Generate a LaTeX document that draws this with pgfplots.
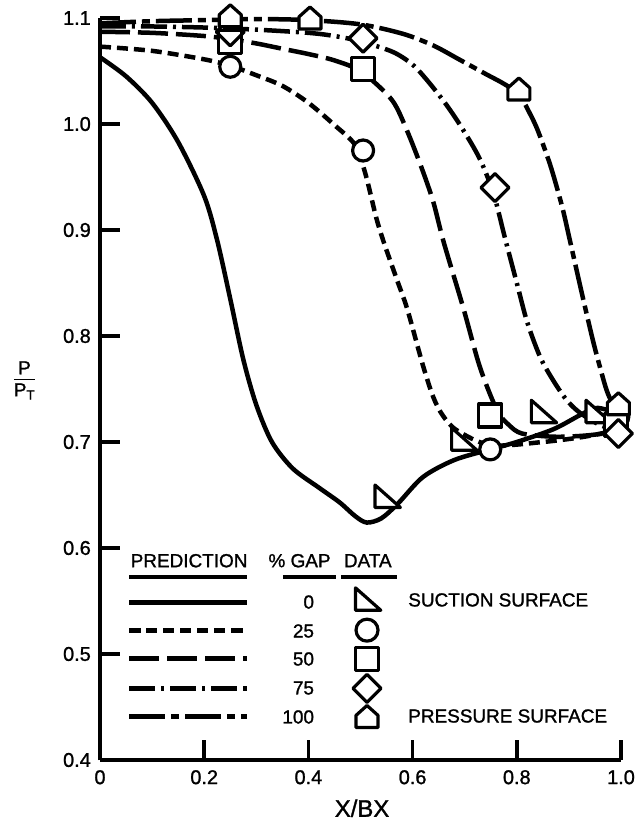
\documentclass[border=0pt]{standalone}
\usepackage{pgfplots}
\pgfplotsset{compat=1.18}
\usepackage{fontspec}
\setmainfont{Liberation Sans}[FakeBold=1.2]

\pgfdeclareplotmark{rtri}{%
  \pgfpathmoveto{\pgfpoint{-\pgfplotmarksize}{1.05\pgfplotmarksize}}%
  \pgfpathlineto{\pgfpoint{-\pgfplotmarksize}{-0.9\pgfplotmarksize}}%
  \pgfpathlineto{\pgfpoint{1.2\pgfplotmarksize}{-0.9\pgfplotmarksize}}%
  \pgfpathclose
  \pgfusepathqfillstroke}
\pgfdeclareplotmark{house}{%
  \pgfpathmoveto{\pgfpoint{0pt}{1.1\pgfplotmarksize}}%
  \pgfpathlineto{\pgfpoint{-\pgfplotmarksize}{0.2\pgfplotmarksize}}%
  \pgfpathlineto{\pgfpoint{-\pgfplotmarksize}{-0.9\pgfplotmarksize}}%
  \pgfpathlineto{\pgfpoint{\pgfplotmarksize}{-0.9\pgfplotmarksize}}%
  \pgfpathlineto{\pgfpoint{\pgfplotmarksize}{0.2\pgfplotmarksize}}%
  \pgfpathclose
  \pgfusepathqfillstroke}
\pgfdeclareplotmark{dmd}{%
  \pgfpathmoveto{\pgfpoint{0pt}{\pgfplotmarksize}}%
  \pgfpathlineto{\pgfpoint{-\pgfplotmarksize}{0pt}}%
  \pgfpathlineto{\pgfpoint{0pt}{-\pgfplotmarksize}}%
  \pgfpathlineto{\pgfpoint{\pgfplotmarksize}{0pt}}%
  \pgfpathclose
  \pgfusepathqfillstroke}
\pgfdeclareplotmark{dmdo}{%
  \pgfpathmoveto{\pgfpoint{0pt}{\pgfplotmarksize}}%
  \pgfpathlineto{\pgfpoint{-\pgfplotmarksize}{0pt}}%
  \pgfpathlineto{\pgfpoint{0pt}{-\pgfplotmarksize}}%
  \pgfpathlineto{\pgfpoint{\pgfplotmarksize}{0pt}}%
  \pgfpathclose
  \pgfusepathqstroke}

\tikzset{
  c0/.style={line width=4.5bp, solid, smooth, tension=0.5},
  c25/.style={line width=4.5bp, dash pattern=on 11bp off 6bp, smooth, tension=0.5},
  c50/.style={line width=4.5bp, dash pattern=on 30bp off 8bp, smooth, tension=0.5},
  c75/.style={line width=4.5bp, dash pattern=on 26bp off 6bp on 3bp off 6bp, smooth, tension=0.5},
  c100/.style={line width=4.5bp, dash pattern=on 36bp off 6bp on 8bp off 6bp, smooth, tension=0.5},
  mk/.style={only marks, mark options={solid, line width=3.2bp, draw=black, fill=white, line join=round}},
}
\newcommand{\lf}{\fontsize{19}{19}\selectfont}

\begin{document}
\begin{tikzpicture}
\path[use as bounding box] (-100bp,-62bp) rectangle (535bp,760bp);
\begin{axis}[
  at={(0,0)}, anchor=south west,
  scale only axis, width=521bp, height=742bp,
  xmin=0, xmax=1, ymin=0.4, ymax=1.1,
  axis x line*=bottom, axis y line*=left,
  axis line style={line width=4.5bp, black},
  tick style={line width=3.5bp, black},
  tick align=inside, major tick length=20bp,
  xtick={0,0.2,0.4,0.6,0.8,1.0},
  xticklabels={0,0.2,0.4,0.6,0.8,1.0},
  ytick={0.4,0.5,0.6,0.7,0.8,0.9,1.0,1.1},
  yticklabels={0.4,0.5,0.6,0.7,0.8,0.9,1.0,1.1},
  xticklabel style={font=\fontsize{20}{20}\selectfont, anchor=north, inner sep=0pt, yshift=-10bp},
  yticklabel style={font=\fontsize{20}{20}\selectfont, anchor=east, inner sep=0pt, xshift=-9bp},
  xlabel={X/BX},
  xlabel style={font=\fontsize{24}{24}\selectfont, at={(axis description cs:0.503,-0.065)}, anchor=center},
  ylabel={\begin{tabular}{@{}c@{}}P\\[-1pt]\hline\rule{0pt}{17pt}P\textsubscript{T}\end{tabular}},
  ylabel style={font=\fontsize{19}{19}\selectfont, rotate=-90, at={(axis description cs:-0.145,0.51)}, anchor=center},
  clip=false,
]
% 0 % gap (solid)
\addplot[c0] coordinates {(0,1.063)(0.05,1.045)(0.1,1.02)(0.15,0.983)(0.2,0.932)(0.225,0.89)(0.25,0.835)(0.275,0.778)(0.3,0.735)(0.33,0.70)(0.37,0.675)(0.42,0.657)(0.46,0.643)(0.49,0.63)(0.512,0.624)(0.54,0.628)(0.572,0.642)(0.62,0.667)(0.68,0.683)(0.749,0.693)(0.8,0.7)(0.87,0.712)(0.92,0.725)(0.95,0.732)(0.975,0.73)(1.0,0.725)};
% 25 %
\addplot[c25] coordinates {(0,1.073)(0.1,1.069)(0.2,1.061)(0.25,1.055)(0.3,1.046)(0.35,1.036)(0.4,1.02)(0.45,0.999)(0.49,0.98)(0.51,0.952)(0.53,0.912)(0.545,0.888)(0.57,0.853)(0.59,0.825)(0.62,0.772)(0.64,0.742)(0.658,0.725)(0.685,0.711)(0.75,0.697)(0.85,0.700)(0.93,0.705)(1.0,0.712)};
% 50 %
\addplot[c50] coordinates {(0,1.087)(0.1,1.086)(0.2,1.083)(0.25,1.08)(0.3,1.076)(0.35,1.071)(0.4,1.066)(0.45,1.06)(0.5,1.05)(0.549,1.029)(0.57,1.015)(0.595,0.987)(0.62,0.955)(0.64,0.926)(0.66,0.888)(0.697,0.827)(0.729,0.771)(0.762,0.730)(0.785,0.716)(0.81,0.708)(0.87,0.705)(0.93,0.706)(1.0,0.71)};
% 75 %
\addplot[c75] coordinates {(0,1.092)(0.1,1.092)(0.2,1.091)(0.3,1.089)(0.4,1.086)(0.45,1.083)(0.5,1.078)(0.562,1.068)(0.6,1.056)(0.63,1.04)(0.665,1.018)(0.695,0.996)(0.728,0.968)(0.755,0.935)(0.777,0.893)(0.8,0.85)(0.82,0.813)(0.845,0.78)(0.87,0.758)(0.895,0.74)(0.92,0.728)(0.96,0.716)(1.0,0.71)};
% 100 %
\addplot[c100] coordinates {(0,1.095)(0.1,1.097)(0.2,1.098)(0.3,1.099)(0.4,1.098)(0.5,1.094)(0.582,1.085)(0.64,1.074)(0.689,1.061)(0.741,1.047)(0.775,1.038)(0.804,1.028)(0.825,1.01)(0.841,0.993)(0.865,0.96)(0.887,0.922)(0.902,0.89)(0.925,0.84)(0.946,0.796)(0.96,0.77)(0.973,0.748)(0.987,0.733)(1.0,0.725)};

% data markers
\addplot[mk, mark=rtri, mark size=11.5bp] coordinates {(0.55,0.648)(0.697,0.702)(0.85,0.728)(0.955,0.728)};
\addplot[mk, mark=*, mark size=10.5bp] coordinates {(0.25,1.054)(0.505,0.975)(0.749,0.693)(0.995,0.724)};
\addplot[mk, mark=square*, mark size=11.5bp] coordinates {(0.25,1.077)(0.505,1.052)(0.749,0.725)(0.99,0.716)};
\addplot[mk, mark=dmdo, mark size=14bp] coordinates {(0.25,1.087)};
\addplot[mk, mark=dmd, mark size=14bp] coordinates {(0.505,1.081)(0.758,0.94)(0.995,0.708)};
\addplot[mk, mark=house, mark size=11bp] coordinates {(0.25,1.101)(0.403,1.099)(0.804,1.032)(0.995,0.735)};

% legend block
\node[font=\lf] at (axis cs:0.171,0.588) {PREDICTION};
\node[font=\lf] at (axis cs:0.383,0.588) {\% GAP};
\node[font=\lf] at (axis cs:0.514,0.588) {DATA};
\addplot[line width=4.5bp] coordinates {(0.0557,0.5726)(0.282,0.5726)};
\addplot[line width=4.5bp] coordinates {(0.351,0.5726)(0.453,0.5726)};
\addplot[line width=4.5bp] coordinates {(0.4626,0.5726)(0.570,0.5726)};

\addplot[c0, line width=5bp] coordinates {(0.0557,0.549)(0.282,0.549)};
\addplot[c25, line width=5bp] coordinates {(0.0557,0.5217)(0.282,0.5217)};
\addplot[c50, line width=5bp] coordinates {(0.0557,0.4953)(0.282,0.4953)};
\addplot[c75, line width=5bp] coordinates {(0.0557,0.4679)(0.282,0.4679)};
\addplot[c100, line width=5bp] coordinates {(0.0557,0.4406)(0.282,0.4406)};

\node[font=\lf, anchor=east] at (axis cs:0.4175,0.549) {0};
\node[font=\lf, anchor=east] at (axis cs:0.4175,0.5217) {25};
\node[font=\lf, anchor=east] at (axis cs:0.4175,0.4953) {50};
\node[font=\lf, anchor=east] at (axis cs:0.4175,0.4679) {75};
\node[font=\lf, anchor=east] at (axis cs:0.4175,0.4406) {100};

\addplot[mk, mark=rtri, mark size=11.5bp] coordinates {(0.5125,0.551)};
\addplot[mk, mark=*, mark size=11bp] coordinates {(0.5125,0.5225)};
\addplot[mk, mark=square*, mark size=11.5bp] coordinates {(0.5125,0.4955)};
\addplot[mk, mark=dmd, mark size=14bp] coordinates {(0.5125,0.4675)};
\addplot[mk, mark=house, mark size=11bp] coordinates {(0.5125,0.440)};

\node[font=\lf, anchor=west] at (axis cs:0.585,0.551) {SUCTION SURFACE};
\node[font=\lf, anchor=west] at (axis cs:0.585,0.4415) {PRESSURE SURFACE};
\end{axis}
\end{tikzpicture}
\end{document}
